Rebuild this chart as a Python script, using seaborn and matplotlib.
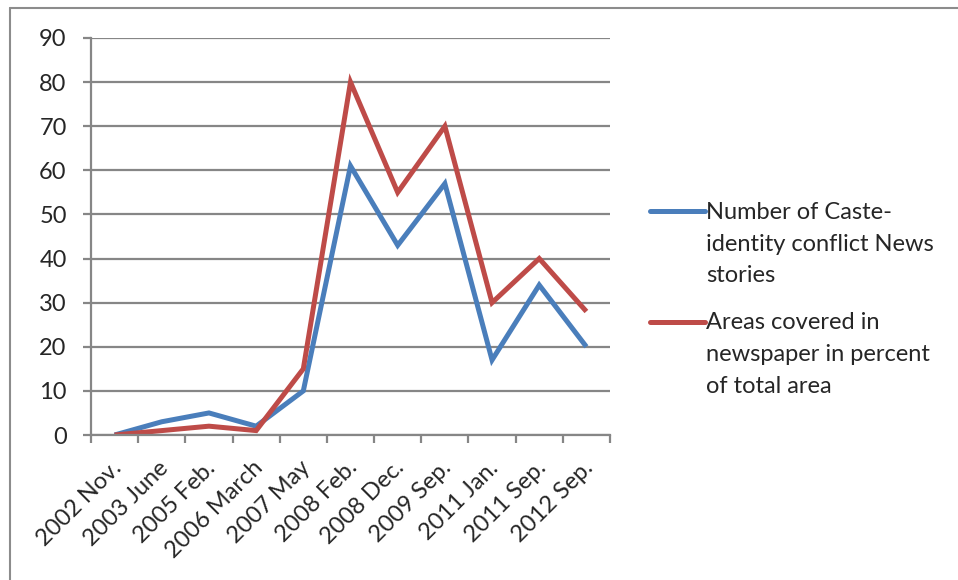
import matplotlib
matplotlib.use("Agg")
import matplotlib.pyplot as plt
from matplotlib.lines import Line2D
import matplotlib.transforms as mtransforms
import numpy as np
import pandas as pd
import seaborn as sns

# Survey dates (x categories)
dates = ["2002 Nov.", "2003 June", "2005 Feb.", "2006 March", "2007 May",
         "2008 Feb.", "2008 Dec.", "2009 Sep.", "2011 Jan.", "2011 Sep.",
         "2012 Sep."]

# Series values
news_stories = [0, 3, 5, 2, 10, 61, 43, 57, 17, 34, 20]
area_percent = [0, 1, 2, 1, 15, 80, 55, 70, 30, 40, 28]

series_names = ["Number of Caste-\nidentity conflict News\nstories",
                "Areas covered in\nnewspaper in percent\nof total area"]
y_ticks = [0, 10, 20, 30, 40, 50, 60, 70, 80, 90]

blue = "#4a7ebb"
red = "#be4b48"
grey = "#868686"

sns.set_style("white")
plt.rcParams["font.family"] = ["Lato", "DejaVu Sans"]

df = pd.DataFrame({
    "pos": list(range(len(dates))) * 2,
    "value": news_stories + area_percent,
    "series": [series_names[0]] * len(dates) + [series_names[1]] * len(dates),
})

fig = plt.figure(figsize=(9.58, 5.8), dpi=100)
ax = fig.add_axes([91 / 958, 0.25, (610 - 91) / 958, 397 / 580])

lw = 3.6
sns.lineplot(data=df, x="pos", y="value", hue="series",
             palette=[blue, red], hue_order=series_names,
             linewidth=lw, ax=ax, legend=True, sort=False,
             solid_joinstyle="miter", solid_capstyle="butt")

ax.set_xlim(-0.5, len(dates) - 0.5)
ax.set_ylim(0, 90)
ax.set_yticks(y_ticks)
ax.set_yticklabels([str(v) for v in y_ticks], fontsize=17)
ax.yaxis.grid(True, color=grey, linewidth=1.6)
ax.set_axisbelow(True)
ax.set_xlabel("")
ax.set_ylabel("")

# Category labels at category centres, tick marks between categories
ax.set_xticks(range(len(dates)))
ax.set_xticklabels(dates, rotation=45, ha="right", va="top",
                   rotation_mode="anchor", fontsize=17)
ax.set_xticks(np.arange(-0.5, len(dates)), minor=True)
ax.tick_params(axis="x", which="major", length=0, pad=10)
ax.tick_params(axis="x", which="minor", length=6, width=1.6, color=grey,
               direction="out", bottom=True)
ax.tick_params(axis="y", length=6, width=1.6, color=grey, direction="out",
               left=True, pad=11.5)
offset = mtransforms.ScaledTranslation(-4 / 100, -8 / 100, fig.dpi_scale_trans)
for lab in ax.get_xticklabels():
    lab.set_transform(lab.get_transform() + offset)

for side in ["top", "right"]:
    ax.spines[side].set_visible(False)
for side in ["left", "bottom"]:
    ax.spines[side].set_color(grey)
    ax.spines[side].set_linewidth(1.6)

# Legend to the right, handles aligned with the first text line
fs = 17
spacing = 1.63
pitch_pt = 33 * 72 / 100
leg = ax.legend(loc="upper left", bbox_to_anchor=(650 / 958, 1 - 202 / 580),
                bbox_transform=fig.transFigure, frameon=False, fontsize=fs,
                handlelength=2.33, handletextpad=0.05, labelspacing=1.1,
                borderaxespad=0, borderpad=0)
for t in leg.get_texts():
    t.set_linespacing(spacing)
for ln in leg.get_lines():
    ln.set_linewidth(lw)
    ln.set_solid_capstyle("round")
    yd = np.asarray(ln.get_ydata(), dtype=float)
    ln.set_ydata(yd + pitch_pt)

# Chart frame edges
fig.add_artist(Line2D([10 / 958, 10 / 958], [0, 1 - 8 / 580],
                      transform=fig.transFigure, color="#8c8c8c", linewidth=1.5))
fig.add_artist(Line2D([10 / 958, 1], [1 - 8 / 580, 1 - 8 / 580],
                      transform=fig.transFigure, color="#8c8c8c", linewidth=1.5))

fig.savefig("out.png", dpi=100)
